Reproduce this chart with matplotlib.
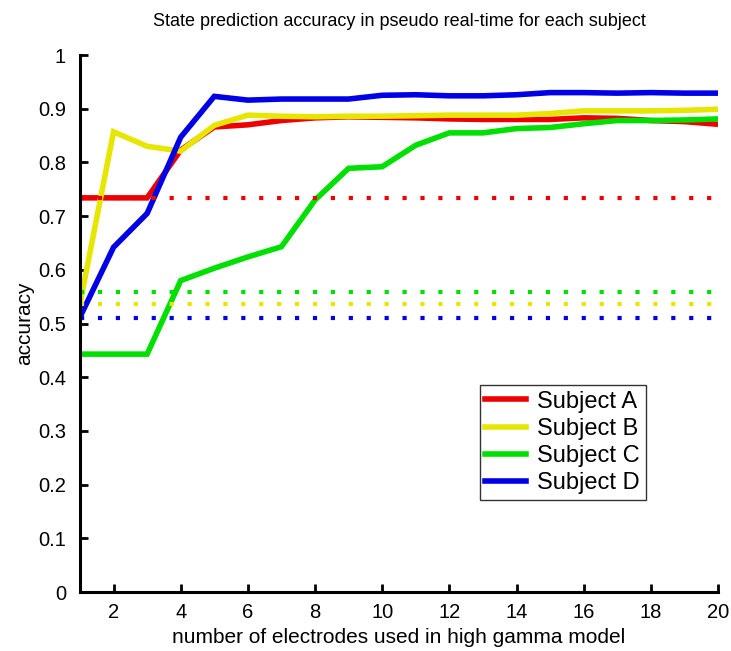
import matplotlib
matplotlib.use('Agg')
import matplotlib.pyplot as plt

plt.rcParams['font.family'] = ['Liberation Sans', 'DejaVu Sans']

electrodes = list(range(1, 21))

subject_a = [0.734, 0.734, 0.734, 0.823, 0.866, 0.870, 0.878, 0.883, 0.885, 0.884,
             0.883, 0.881, 0.880, 0.880, 0.880, 0.883, 0.882, 0.878, 0.876, 0.871]
subject_b = [0.537, 0.857, 0.830, 0.821, 0.869, 0.888, 0.886, 0.885, 0.886, 0.886,
             0.887, 0.888, 0.888, 0.888, 0.891, 0.896, 0.896, 0.896, 0.897, 0.899]
subject_c = [0.443, 0.443, 0.443, 0.580, 0.603, 0.624, 0.643, 0.730, 0.789, 0.792,
             0.832, 0.855, 0.855, 0.863, 0.865, 0.872, 0.878, 0.878, 0.879, 0.881]
subject_d = [0.512, 0.642, 0.705, 0.847, 0.923, 0.916, 0.918, 0.918, 0.918, 0.925,
             0.926, 0.924, 0.924, 0.926, 0.930, 0.930, 0.929, 0.930, 0.929, 0.929]

# chance level for each subject (dotted lines)
chance = [0.734, 0.537, 0.558, 0.511]

labels = ['Subject A', 'Subject B', 'Subject C', 'Subject D']
colors = ['#ee0000', '#e6e600', '#00e000', '#0000e6']

fig = plt.figure(figsize=(7.31, 6.51), dpi=100)
ax = fig.add_axes([0.1094, 0.0906, 0.8728, 0.8249])

for vals, lab, col in zip([subject_a, subject_b, subject_c, subject_d], labels, colors):
    ax.plot(electrodes, vals, color=col, lw=4, label=lab, solid_joinstyle='miter')

for lvl, col in zip(chance, colors):
    ax.plot([electrodes[0], electrodes[-1]], [lvl, lvl], color=col, lw=3,
            linestyle=(0, (1, 3.3)), dash_capstyle='butt')

ax.set_xlim(1, 20)
ax.set_ylim(0, 1)
ax.set_xticks(range(2, 21, 2))
ax.set_yticks([i / 10 for i in range(11)])
ax.set_yticklabels(['0', '0.1', '0.2', '0.3', '0.4', '0.5', '0.6', '0.7', '0.8', '0.9', '1'])
ax.tick_params(direction='in', length=6, width=2, labelsize=14.5)
ax.tick_params(axis='y', pad=10)
ax.tick_params(axis='x', pad=8)

ax.spines['top'].set_visible(False)
ax.spines['right'].set_visible(False)
ax.spines['left'].set_linewidth(2.2)
ax.spines['bottom'].set_linewidth(2.2)

ax.set_title('State prediction accuracy in pseudo real-time for each subject', fontsize=13, pad=21)
ax.set_xlabel('number of electrodes used in high gamma model', fontsize=15, labelpad=4)
ax.set_ylabel('accuracy', fontsize=15, labelpad=3)

leg = ax.legend(loc='lower right', bbox_to_anchor=(0.887, 0.171), fontsize=17, frameon=True,
                fancybox=False, edgecolor='black', handlelength=1.7, handletextpad=0.5,
                borderpad=0.25, labelspacing=0.22, borderaxespad=0)
leg.get_frame().set_linewidth(1)
for line in leg.get_lines():
    line.set_linewidth(4)

fig.savefig('out.png', dpi=100)
